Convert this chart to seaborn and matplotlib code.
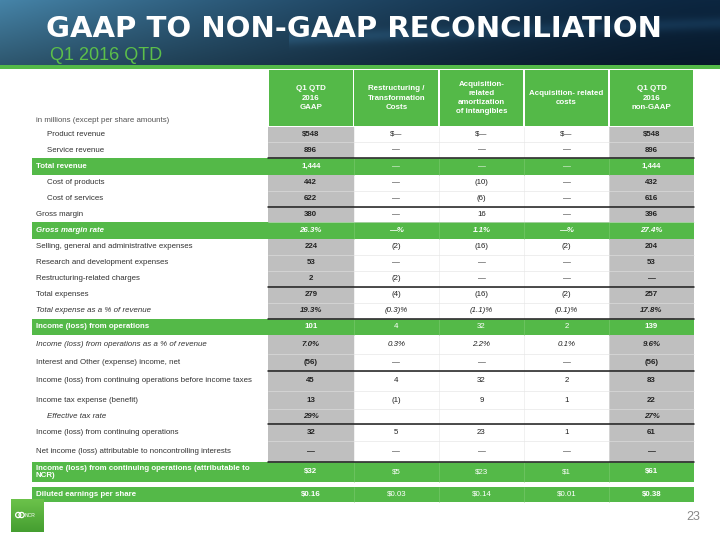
import numpy as np
import matplotlib
matplotlib.use("Agg")
import matplotlib.pyplot as plt
from matplotlib.patches import Rectangle, Circle
import seaborn as sns

# Table content
row_labels = [
    "Product revenue", "Service revenue", "Total revenue", "Cost of products",
    "Cost of services", "Gross margin", "Gross margin rate",
    "Selling, general and administrative expenses",
    "Research and development expenses", "Restructuring-related charges",
    "Total expenses", "Total expense as a % of revenue",
    "Income (loss) from operations",
    "Income (loss) from operations as a % of revenue",
    "Interest and Other (expense) income, net",
    "Income (loss) from continuing operations before income taxes",
    "Income tax expense (benefit)", "Effective tax rate",
    "Income (loss) from continuing operations",
    "Net income (loss) attributable to noncontrolling interests",
    "Income (loss) from continuing operations (attributable to\nNCR)",
    "Diluted earnings per share",
]
col_headers = [
    "Q1 QTD\n2016\nGAAP",
    "Restructuring /\nTransformation\nCosts",
    "Acquisition-\nrelated\namortization\nof intangibles",
    "Acquisition- related\ncosts",
    "Q1 QTD\n2016\nnon-GAAP",
]
gaap = ["$548", "896", "1,444", "442", "622", "380", "26.3%", "224", "53", "2",
        "279", "19.3%", "101", "7.0%", "(56)", "45", "13", "29%", "32", "—",
        "$32", "$0.16"]
restructuring = ["$—", "—", "—", "—", "—", "—", "—%", "(2)", "—", "(2)",
                 "(4)", "(0.3)%", "4", "0.3%", "—", "4", "(1)", "", "5", "—",
                 "$5", "$0.03"]
amortization = ["$—", "—", "—", "(10)", "(6)", "16", "1.1%", "(16)", "—", "—",
                "(16)", "(1.1)%", "32", "2.2%", "—", "32", "9", "", "23", "—",
                "$23", "$0.14"]
acq_costs = ["$—", "—", "—", "—", "—", "—", "—%", "(2)", "—", "—",
             "(2)", "(0.1)%", "2", "0.1%", "—", "2", "1", "", "1", "—",
             "$1", "$0.01"]
non_gaap = ["$548", "896", "1,444", "432", "616", "396", "27.4%", "204", "53", "—",
            "257", "17.8%", "139", "9.6%", "(56)", "83", "22", "27%", "61", "—",
            "$61", "$0.38"]

green_rows = {2, 6, 12, 20, 21}
italic_rows = {6, 11, 13, 17}
indent_rows = {0, 1, 3, 4, 17}
rule_above = {2, 5, 10, 12, 15, 18, 20}

# Layout (pixels)
row_heights = [15, 16, 17, 16, 16, 15, 17, 16, 16, 16, 16, 16, 16, 19, 17, 20,
               18, 15, 17, 21, 20, 15]
row_gap_before = {21: 5}
col_edges = [268, 353.5, 439, 524, 609, 694]
GREEN = "#54b948"
GRAY = "#bfbfbf"
FS = 5.7

sns.set_style("white")
plt.rcParams["font.family"] = ["Liberation Sans", "DejaVu Sans"]

fig = plt.figure(figsize=(7.2, 5.4), dpi=100)
ax = fig.add_axes([0, 0, 1, 1])
ax.set_xlim(0, 720)
ax.set_ylim(540, 0)
ax.axis("off")

# Banner
h, w = 65, 720
yy, xx = np.mgrid[0:h, 0:w]
fx = xx / w
fy = yy / h
c_left = np.array([70, 132, 168]) / 255
c_right = np.array([12, 38, 64]) / 255
mix = (1 - fx[..., None]) ** 1.6
img = c_left[None, None, :] * mix + c_right[None, None, :] * (1 - mix)
img = img * (1 - 0.35 * fy[..., None])
streak = np.exp(-((fy - 0.75 + 0.4 * fx) ** 2) / 0.01) * 0.12 * (fx > 0.4)
img = np.clip(img + streak[..., None] * np.array([0.3, 0.6, 0.8]), 0, 1)
ax.imshow(img, extent=(0, 720, 65, 0), aspect="auto", zorder=0)
ax.add_patch(Rectangle((0, 65), 720, 4, color=GREEN, lw=0, zorder=1))
ax.text(46, 37, "GAAP TO NON-GAAP RECONCILIATION", color="white",
        fontsize=21, fontweight="bold", family=["DejaVu Sans"],
        va="baseline", ha="left", zorder=2)
ax.text(50, 55, "Q1 2016 QTD", color="#5cbf4a", fontsize=13,
        va="center", ha="left", zorder=2)

# Header cells
for j, hdr in enumerate(col_headers):
    x0, x1 = col_edges[j], col_edges[j + 1]
    ax.add_patch(Rectangle((x0 + 0.8, 70), x1 - x0 - 1.6, 56, color=GREEN, lw=0))
    ax.text((x0 + x1) / 2, 98, hdr, color="white", fontsize=FS, fontweight="bold",
            ha="center", va="center", linespacing=1.45)
ax.text(36, 121, "in millions (except per share amounts)", color="#555555",
        fontsize=FS, ha="left", va="center")

# Body
value_cols = [gaap, restructuring, amortization, acq_costs, non_gaap]
y = 127
for i, label in enumerate(row_labels):
    y += row_gap_before.get(i, 0)
    rh = row_heights[i]
    yc = y + rh / 2
    is_green = i in green_rows
    if is_green:
        ax.add_patch(Rectangle((32, y), 662, rh, color=GREEN, lw=0, zorder=1))
        for xe in col_edges[1:-1]:
            ax.plot([xe, xe], [y, y + rh], color="#7cca70", lw=0.4, zorder=1.5)
    else:
        for j in (0, 4):
            ax.add_patch(Rectangle((col_edges[j], y), col_edges[j + 1] - col_edges[j], rh,
                                   color=GRAY, lw=0, zorder=1))
        ax.plot([col_edges[0], col_edges[-1]], [y + rh, y + rh], color="#e2e2e2", lw=0.4, zorder=1.2)
        for xe in col_edges[1:-1]:
            ax.plot([xe, xe], [y, y + rh], color="#e6e6e6", lw=0.4, zorder=1.2)
    if i in rule_above:
        ax.plot([col_edges[0], col_edges[-1]], [y, y], color="#1a1a1a", lw=1.1, zorder=3)

    txt_color = "white" if is_green else "#333333"
    style = "italic" if i in italic_rows else "normal"
    lab_weight = "bold" if is_green else "normal"
    lx = 47 if i in indent_rows else 36
    ax.text(lx, yc, label, color=txt_color, fontsize=FS, fontstyle=style,
            fontweight=lab_weight, ha="left", va="center", linespacing=1.15, zorder=4)
    for j, col in enumerate(value_cols):
        xc = (col_edges[j] + col_edges[j + 1]) / 2
        bold = j in (0, 4) or (is_green and i == 6)
        vcolor = "white" if is_green else "#222222"
        ax.text(xc, yc, col[i], color=vcolor, fontsize=FS, fontstyle=style,
                fontweight="bold" if bold else "normal",
                ha="center", va="center", zorder=4)
    y += rh

# Footer: logo and page number
logo = np.linspace(0, 1, 34)[:, None] * np.ones((1, 34))
logo_img = np.dstack([0.42 - 0.15 * logo, 0.76 - 0.14 * logo, 0.29 - 0.1 * logo])
ax.imshow(logo_img, extent=(11, 44, 532, 499), aspect="auto", zorder=2)
ax.add_patch(Circle((18.2, 515), 2.6, fill=False, ec="white", lw=0.9, zorder=3))
ax.add_patch(Circle((21.6, 515), 2.6, fill=False, ec="white", lw=0.9, zorder=3))
ax.text(25, 515.3, "NCR", color="white", fontsize=3.6, ha="left", va="center", zorder=3)
ax.text(700, 517, "23", color="#888888", fontsize=9, ha="right", va="center")

fig.savefig("out.png", dpi=100)
